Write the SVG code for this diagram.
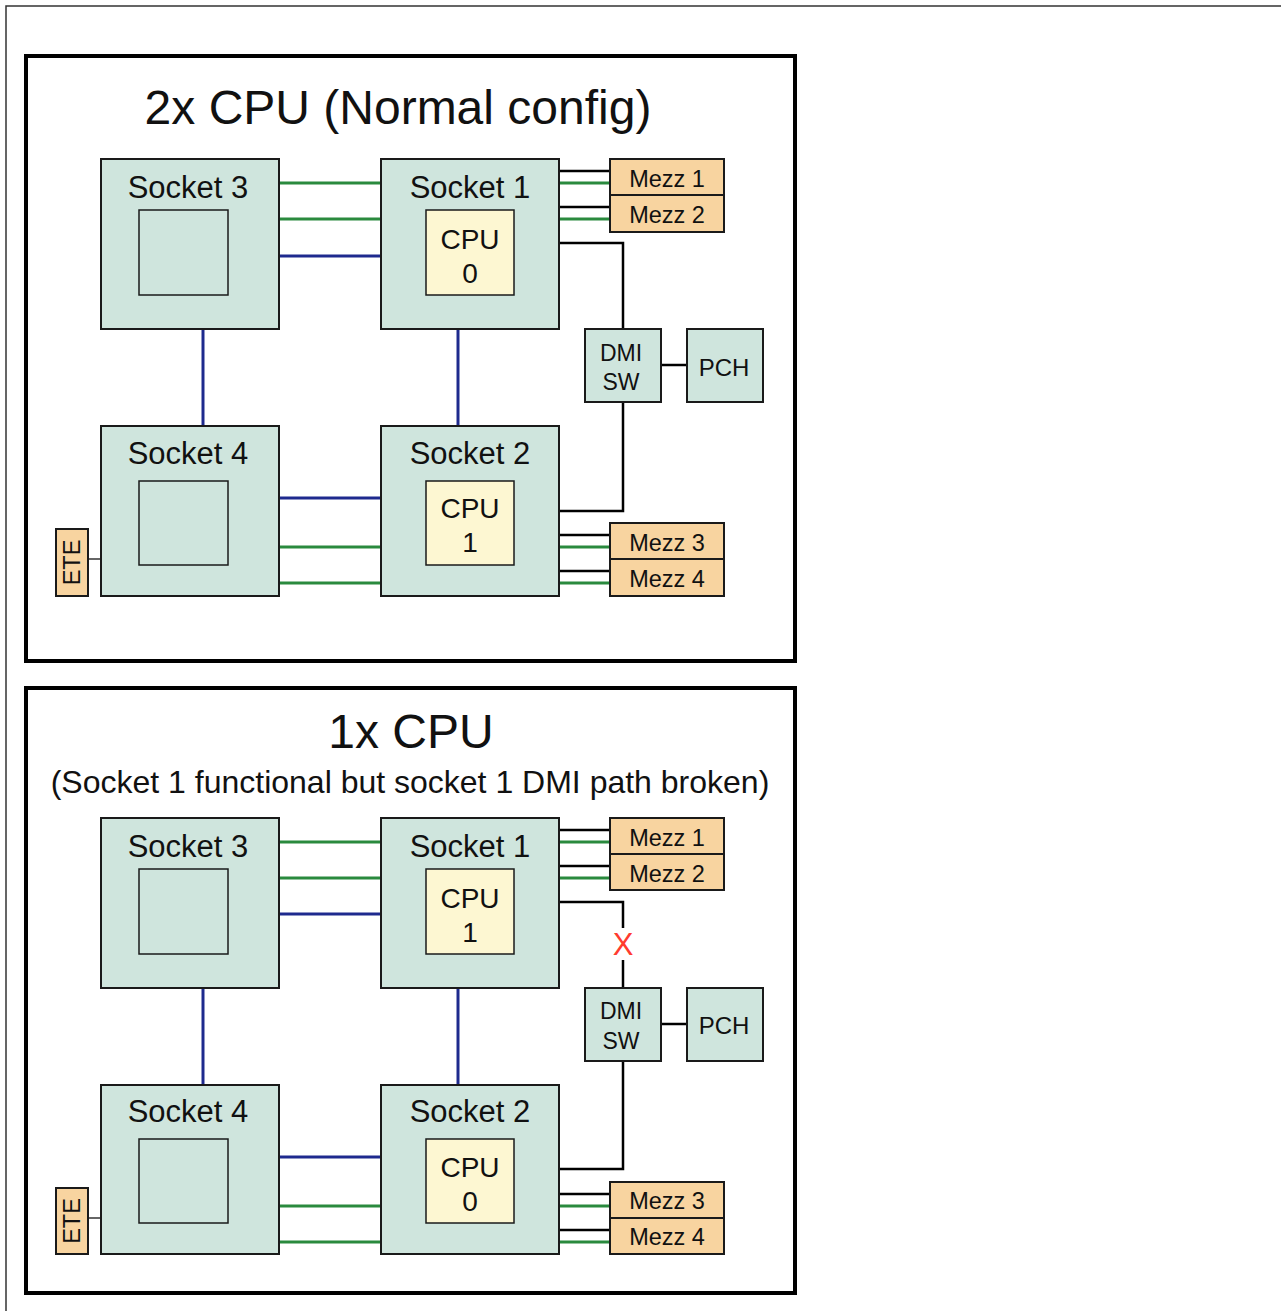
<svg xmlns="http://www.w3.org/2000/svg" width="1281" height="1311" viewBox="0 0 1281 1311">
<style>
.frame{fill:none;stroke:#333;stroke-width:1.5}
.panel{fill:#fff;stroke:#000;stroke-width:4}
.sock{fill:#cfe5dd;stroke:#1a1a1a;stroke-width:2}
.inner{fill:#cfe5dd;stroke:#1a1a1a;stroke-width:1.5}
.cpu{fill:#fdf7d2;stroke:#1a1a1a;stroke-width:1.5}
.mezz{fill:#f8d4a0;stroke:#1a1a1a;stroke-width:2}
.g{stroke:#2a8a3e;stroke-width:3;fill:none}
.b{stroke:#1e2a8e;stroke-width:3;fill:none}
.k{stroke:#000;stroke-width:2.5;fill:none}
.t{font-family:"Liberation Sans",Arial,sans-serif;fill:#111;text-anchor:middle}
.title{font-size:48px}
.sub{font-size:32px}
.sl{font-size:31px}
.cl{font-size:28px}
.ml{font-size:23.5px}
.dl{font-size:23px}
.pl{font-size:24px}
</style>
<rect class="frame" x="6" y="6" width="1290" height="1320"/>

<!-- ===== Panel 1 ===== -->
<g id="panel1">
<rect class="panel" x="26" y="56" width="769" height="605"/>
<text class="t title" x="398" y="124">2x CPU (Normal config)</text>
</g>
<g id="connectors1">
<line class="g" x1="279" y1="183" x2="381" y2="183"/>
<line class="g" x1="279" y1="219" x2="381" y2="219"/>
<line class="b" x1="279" y1="256" x2="381" y2="256"/>
<line class="b" x1="203" y1="329" x2="203" y2="426"/>
<line class="b" x1="458" y1="329" x2="458" y2="426"/>
<line class="b" x1="279" y1="498" x2="381" y2="498"/>
<line class="g" x1="279" y1="547" x2="381" y2="547"/>
<line class="g" x1="279" y1="583" x2="381" y2="583"/>
<line class="k" x1="559" y1="171" x2="610" y2="171"/>
<line class="g" x1="559" y1="183" x2="610" y2="183"/>
<line class="k" x1="559" y1="207" x2="610" y2="207"/>
<line class="g" x1="559" y1="219" x2="610" y2="219"/>
<line class="k" x1="559" y1="535" x2="610" y2="535"/>
<line class="g" x1="559" y1="547" x2="610" y2="547"/>
<line class="k" x1="559" y1="571" x2="610" y2="571"/>
<line class="g" x1="559" y1="583" x2="610" y2="583"/>
<polyline class="k" points="559,243 623,243 623,329"/>
<polyline class="k" points="623,402 623,511 559,511"/>
<line class="k" x1="661" y1="365" x2="687" y2="365"/>
<line stroke="#333" stroke-width="1.5" x1="88" y1="559" x2="101" y2="559"/>
</g>
<g id="s3a"><rect class="sock" x="101" y="159" width="178" height="170"/><rect class="inner" x="139" y="210" width="89" height="85"/><text class="t sl" x="188" y="198">Socket 3</text></g>
<g id="s1a"><rect class="sock" x="381" y="159" width="178" height="170"/><rect class="cpu" x="426" y="210" width="88" height="85"/><text class="t sl" x="470" y="198">Socket 1</text><text class="t cl" x="470" y="249">CPU</text><text class="t cl" x="470" y="283">0</text></g>
<g id="s4a"><rect class="sock" x="101" y="426" width="178" height="170"/><rect class="inner" x="139" y="481" width="89" height="84"/><text class="t sl" x="188" y="464">Socket 4</text></g>
<g id="s2a"><rect class="sock" x="381" y="426" width="178" height="170"/><rect class="cpu" x="426" y="481" width="88" height="84"/><text class="t sl" x="470" y="464">Socket 2</text><text class="t cl" x="470" y="518">CPU</text><text class="t cl" x="470" y="552">1</text></g>
<g id="m1a"><rect class="mezz" x="610" y="159" width="114" height="36"/><text class="t ml" x="667" y="187">Mezz 1</text></g>
<g id="m2a"><rect class="mezz" x="610" y="195" width="114" height="37"/><text class="t ml" x="667" y="223">Mezz 2</text></g>
<g id="m3a"><rect class="mezz" x="610" y="523" width="114" height="36"/><text class="t ml" x="667" y="551">Mezz 3</text></g>
<g id="m4a"><rect class="mezz" x="610" y="559" width="114" height="37"/><text class="t ml" x="667" y="587">Mezz 4</text></g>
<g id="dmia"><rect class="sock" x="585" y="329" width="76" height="73"/><text class="t dl" x="621" y="361">DMI</text><text class="t dl" x="621" y="390">SW</text></g>
<g id="pcha"><rect class="sock" x="687" y="329" width="76" height="73"/><text class="t pl" x="724" y="376">PCH</text></g>
<g id="etea"><rect class="mezz" x="56" y="529" width="32" height="67"/><text class="t ml" transform="translate(80,562.5) rotate(-90)" x="0" y="0">ETE</text></g>

<!-- ===== Panel 2 ===== -->
<g id="panel2">
<rect class="panel" x="26" y="688" width="769" height="605"/>
<text class="t title" x="411" y="748">1x CPU</text>
<text class="t sub" x="410" y="793">(Socket 1 functional but socket 1 DMI path broken)</text>
</g>
<g id="connectors2">
<line class="g" x1="279" y1="842" x2="381" y2="842"/>
<line class="g" x1="279" y1="878" x2="381" y2="878"/>
<line class="b" x1="279" y1="914" x2="381" y2="914"/>
<line class="b" x1="203" y1="988" x2="203" y2="1085"/>
<line class="b" x1="458" y1="988" x2="458" y2="1085"/>
<line class="b" x1="279" y1="1157" x2="381" y2="1157"/>
<line class="g" x1="279" y1="1206" x2="381" y2="1206"/>
<line class="g" x1="279" y1="1242" x2="381" y2="1242"/>
<line class="k" x1="559" y1="830" x2="610" y2="830"/>
<line class="g" x1="559" y1="842" x2="610" y2="842"/>
<line class="k" x1="559" y1="866" x2="610" y2="866"/>
<line class="g" x1="559" y1="878" x2="610" y2="878"/>
<line class="k" x1="559" y1="1194" x2="610" y2="1194"/>
<line class="g" x1="559" y1="1206" x2="610" y2="1206"/>
<line class="k" x1="559" y1="1230" x2="610" y2="1230"/>
<line class="g" x1="559" y1="1242" x2="610" y2="1242"/>
<polyline class="k" points="559,902 623,902 623,928"/>
<line class="k" x1="623" y1="960" x2="623" y2="988"/>
<polyline class="k" points="623,1061 623,1169 559,1169"/>
<line class="k" x1="661" y1="1024" x2="687" y2="1024"/>
<line stroke="#333" stroke-width="1.5" x1="88" y1="1218" x2="101" y2="1218"/>
<text x="623" y="955" font-family="Liberation Sans,Arial,sans-serif" font-size="31" fill="#ff3b2f" text-anchor="middle">X</text>
</g>
<g id="s3b"><rect class="sock" x="101" y="818" width="178" height="170"/><rect class="inner" x="139" y="869" width="89" height="85"/><text class="t sl" x="188" y="857">Socket 3</text></g>
<g id="s1b"><rect class="sock" x="381" y="818" width="178" height="170"/><rect class="cpu" x="426" y="869" width="88" height="85"/><text class="t sl" x="470" y="857">Socket 1</text><text class="t cl" x="470" y="908">CPU</text><text class="t cl" x="470" y="942">1</text></g>
<g id="s4b"><rect class="sock" x="101" y="1085" width="178" height="169"/><rect class="inner" x="139" y="1139" width="89" height="84"/><text class="t sl" x="188" y="1122">Socket 4</text></g>
<g id="s2b"><rect class="sock" x="381" y="1085" width="178" height="169"/><rect class="cpu" x="426" y="1139" width="88" height="84"/><text class="t sl" x="470" y="1122">Socket 2</text><text class="t cl" x="470" y="1177">CPU</text><text class="t cl" x="470" y="1211">0</text></g>
<g id="m1b"><rect class="mezz" x="610" y="818" width="114" height="36"/><text class="t ml" x="667" y="846">Mezz 1</text></g>
<g id="m2b"><rect class="mezz" x="610" y="854" width="114" height="36"/><text class="t ml" x="667" y="882">Mezz 2</text></g>
<g id="m3b"><rect class="mezz" x="610" y="1182" width="114" height="36"/><text class="t ml" x="667" y="1209">Mezz 3</text></g>
<g id="m4b"><rect class="mezz" x="610" y="1218" width="114" height="36"/><text class="t ml" x="667" y="1245">Mezz 4</text></g>
<g id="dmib"><rect class="sock" x="585" y="988" width="76" height="73"/><text class="t dl" x="621" y="1019">DMI</text><text class="t dl" x="621" y="1049">SW</text></g>
<g id="pchb"><rect class="sock" x="687" y="988" width="76" height="73"/><text class="t pl" x="724" y="1034">PCH</text></g>
<g id="eteb"><rect class="mezz" x="56" y="1188" width="32" height="66"/><text class="t ml" transform="translate(80,1221) rotate(-90)" x="0" y="0">ETE</text></g>
</svg>
